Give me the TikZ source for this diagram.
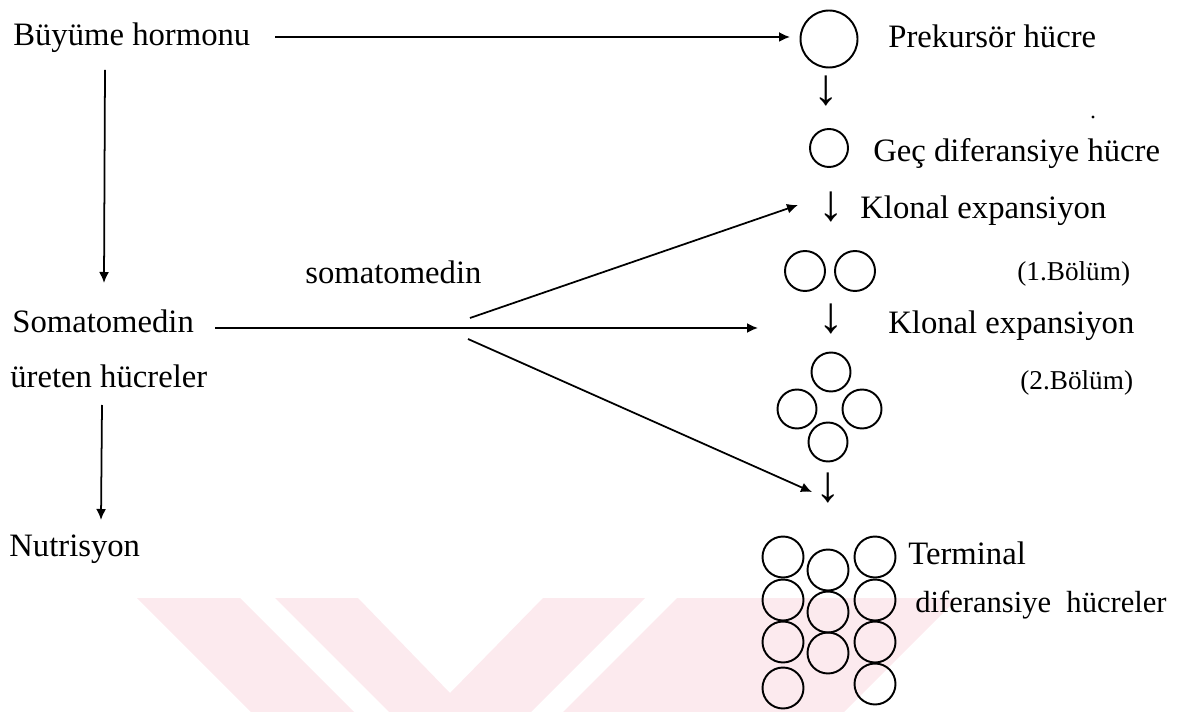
\documentclass[tikz,border=0pt]{standalone}
\usepackage{fontspec}
\setmainfont{Liberation Serif}
\usetikzlibrary{arrows.meta,calc}
\definecolor{wm}{RGB}{252,234,238}
\begin{document}
\begin{tikzpicture}[x=0.02cm,y=-0.02cm,
  lbl/.style={inner sep=0pt,anchor=base west,font=\fontsize{18.6}{22}\selectfont},
  small/.style={inner sep=0pt,anchor=base west,font=\fontsize{15.5}{18}\selectfont},
  glyph/.style={inner sep=0pt,font=\fontsize{29}{32}\selectfont},
  cell/.style={circle,draw,line width=1.1pt,inner sep=0pt,minimum size=#1},
  tcell/.style={ellipse,draw,line width=1.1pt,inner sep=0pt,minimum width=0.8cm,minimum height=0.84cm},
  arr/.style={line width=1pt,-{Latex[length=0.22cm,width=0.2cm]}}]
\useasboundingbox (0,0) rectangle (1179,712);
% watermark
\fill[wm] (137,598) -- (240,598) -- (354,712) -- (251,712) -- cycle;
\fill[wm] (275,598) -- (358,598) -- (450,693) -- (543,598) -- (645,598) -- (531,712) -- (389,712) -- cycle;
\fill[wm] (677,598) -- (958,598) -- (844,712) -- (563,712) -- cycle;
% left column
\node[lbl] (buyume) at (13,46) {Büyüme hormonu};
\node[lbl] (somatomedin) at (12,333) {Somatomedin};
\node[lbl] (ureten) at (10,388) {üreten hücreler};
\node[lbl] (nutri) at (9,556) {Nutrisyon};
\node[lbl] (somalbl) at (305,284) {somatomedin};
% right column texts
\node[lbl] (prektxt) at (888,48) {Prekursör hücre};
\node[lbl] (gectxt) at (873,162) {Geç diferansiye hücre};
\node[lbl] (klonal1) at (860,219) {Klonal expansiyon};
\node[small] (bol1) at (1017,281) {(1.Bölüm)};
\node[lbl] (klonal2) at (888,334) {Klonal expansiyon};
\node[small] (bol2) at (1020,390) {(2.Bölüm)};
\node[lbl] (termtxt) at (908,564) {Terminal};
\node[lbl,font=\fontsize{17.4}{20}\selectfont] (diftxt) at (915,612) {diferansiye\ \ hücreler};
% cells
\node[cell=1.14cm] (prek) at (829,39) {};
\node[cell=0.76cm] (gec) at (829,148) {};
\node[cell=0.8cm] (p1) at (805,271) {};
\node[cell=0.8cm] (p2) at (855,271) {};
\node[cell=0.78cm] (q1) at (831,372) {};
\node[cell=0.78cm] (q2) at (797,409) {};
\node[cell=0.78cm] (q3) at (862,409) {};
\node[cell=0.78cm] (q4) at (828,442) {};
\node[cell=0.82cm] (t11) at (783,557) {};
\node[cell=0.82cm] (t12) at (783,600) {};
\node[cell=0.82cm] (t13) at (783,642) {};
\node[cell=0.82cm] (t14) at (783,688) {};
\node[cell=0.82cm] (t21) at (828,570) {};
\node[cell=0.82cm] (t22) at (828,612) {};
\node[cell=0.82cm] (t23) at (828,653) {};
\node[cell=0.82cm] (t31) at (875,557) {};
\node[cell=0.82cm] (t32) at (875,600) {};
\node[cell=0.82cm] (t33) at (875,642) {};
\node[cell=0.82cm] (t34) at (875,684) {};
% small glyph arrows
\node[glyph] (d1) at (826,91) {↓};
\node[glyph] (d2) at (831,207) {↓};
\node[glyph] (d3) at (831,319) {↓};
\node[glyph] (d4) at (828,488) {↓};
% stray dot
\fill (1093,117) circle[radius=1.6];
% connectors
\coordinate (h0) at (275,37);
\coordinate (h1) at (790,37);
\draw[arr] (h0) -- (h1);
\coordinate (v1a) at (105,70);
\coordinate (v1b) at (104,283);
\draw[arr] (v1a) -- (v1b);
\coordinate (v2a) at (102,405);
\coordinate (v2b) at (101,520);
\draw[arr] (v2a) -- (v2b);
\coordinate (s0) at (215,328);
\coordinate (e2) at (758,328);
\draw[arr] (s0) -- (e2);
\coordinate (f1) at (470,318);
\coordinate (e1) at (798,205);
\draw[arr] (f1) -- (e1);
\coordinate (f3) at (468,339);
\coordinate (e3) at (812,492);
\draw[arr] (f3) -- (e3);
\end{tikzpicture}
\end{document}
